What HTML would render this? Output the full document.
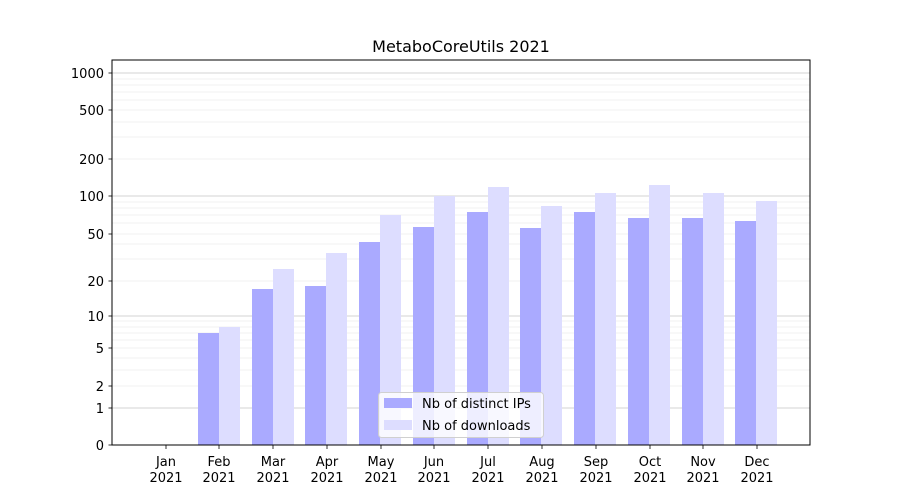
<!DOCTYPE html>
<html><head><meta charset="utf-8"><style>body{margin:0;background:#fff}svg{display:block;font-family:"DejaVu Sans","Liberation Sans",sans-serif}</style></head>
<body>
<svg width="900" height="500" xmlns="http://www.w3.org/2000/svg">
<rect width="900" height="500" fill="#fff"/>
<g stroke="#ececec" stroke-width="0.8">
<line x1="112" x2="810" y1="386" y2="386"/><line x1="112" x2="810" y1="370" y2="370"/><line x1="112" x2="810" y1="358" y2="358"/><line x1="112" x2="810" y1="348" y2="348"/><line x1="112" x2="810" y1="340" y2="340"/><line x1="112" x2="810" y1="333" y2="333"/><line x1="112" x2="810" y1="327" y2="327"/><line x1="112" x2="810" y1="321" y2="321"/>
<line x1="112" x2="810" y1="281" y2="281"/><line x1="112" x2="810" y1="259" y2="259"/><line x1="112" x2="810" y1="244" y2="244"/><line x1="112" x2="810" y1="234" y2="234"/><line x1="112" x2="810" y1="223" y2="223"/><line x1="112" x2="810" y1="215" y2="215"/><line x1="112" x2="810" y1="208" y2="208"/><line x1="112" x2="810" y1="202" y2="202"/>
<line x1="112" x2="810" y1="159" y2="159"/><line x1="112" x2="810" y1="137" y2="137"/><line x1="112" x2="810" y1="122" y2="122"/><line x1="112" x2="810" y1="110" y2="110"/><line x1="112" x2="810" y1="100" y2="100"/><line x1="112" x2="810" y1="92" y2="92"/><line x1="112" x2="810" y1="85" y2="85"/><line x1="112" x2="810" y1="79" y2="79"/>
</g>
<g stroke="#c4c4c4" stroke-width="0.8">
<line x1="112" x2="810" y1="408" y2="408"/><line x1="112" x2="810" y1="316" y2="316"/><line x1="112" x2="810" y1="196" y2="196"/><line x1="112" x2="810" y1="73" y2="73"/>
</g>
<g fill="#aaaaff">
<rect x="198" y="333" width="21" height="112"/><rect x="252" y="289" width="21" height="156"/><rect x="305" y="286" width="21" height="159"/><rect x="359" y="242" width="21" height="203"/><rect x="413" y="227" width="21" height="218"/><rect x="467" y="212" width="21" height="233"/><rect x="520" y="228" width="21" height="217"/><rect x="574" y="212" width="21" height="233"/><rect x="628" y="218" width="21" height="227"/><rect x="682" y="218" width="21" height="227"/><rect x="735" y="221" width="21" height="224"/>
</g>
<g fill="#ddddff">
<rect x="219" y="327" width="21" height="118"/><rect x="273" y="269" width="21" height="176"/><rect x="326" y="253" width="21" height="192"/><rect x="380" y="215" width="21" height="230"/><rect x="434" y="196" width="21" height="249"/><rect x="488" y="187" width="21" height="258"/><rect x="541" y="206" width="21" height="239"/><rect x="595" y="193" width="21" height="252"/><rect x="649" y="185" width="21" height="260"/><rect x="703" y="193" width="21" height="252"/><rect x="756" y="201" width="21" height="244"/>
</g>
<rect x="112" y="60" width="698" height="385" fill="none" stroke="#000" stroke-width="1"/>
<g stroke="#000" stroke-width="0.8">
<line x1="108.5" x2="112" y1="445" y2="445"/><line x1="108.5" x2="112" y1="408" y2="408"/><line x1="108.5" x2="112" y1="386" y2="386"/><line x1="108.5" x2="112" y1="348" y2="348"/><line x1="108.5" x2="112" y1="316" y2="316"/><line x1="108.5" x2="112" y1="281" y2="281"/><line x1="108.5" x2="112" y1="234" y2="234"/><line x1="108.5" x2="112" y1="196" y2="196"/><line x1="108.5" x2="112" y1="159" y2="159"/><line x1="108.5" x2="112" y1="110" y2="110"/><line x1="108.5" x2="112" y1="73" y2="73"/>
</g>
<g font-size="13" text-anchor="end" fill="#000">
<text x="104" y="450">0</text><text x="104" y="413">1</text><text x="104" y="391">2</text><text x="104" y="353">5</text><text x="104" y="321">10</text><text x="104" y="286">20</text><text x="104" y="239">50</text><text x="104" y="201">100</text><text x="104" y="164">200</text><text x="104" y="115">500</text><text x="104" y="78">1000</text>
</g>
<g stroke="#000" stroke-width="0.8">
<line x1="166" x2="166" y1="445" y2="449"/><line x1="219" x2="219" y1="445" y2="449"/><line x1="273" x2="273" y1="445" y2="449"/><line x1="327" x2="327" y1="445" y2="449"/><line x1="381" x2="381" y1="445" y2="449"/><line x1="434" x2="434" y1="445" y2="449"/><line x1="488" x2="488" y1="445" y2="449"/><line x1="542" x2="542" y1="445" y2="449"/><line x1="596" x2="596" y1="445" y2="449"/><line x1="650" x2="650" y1="445" y2="449"/><line x1="703" x2="703" y1="445" y2="449"/><line x1="757" x2="757" y1="445" y2="449"/>
</g>
<g font-size="13" text-anchor="middle" fill="#000">
<text x="166" y="466">Jan</text><text x="166" y="482">2021</text>
<text x="219" y="466">Feb</text><text x="219" y="482">2021</text>
<text x="273" y="466">Mar</text><text x="273" y="482">2021</text>
<text x="327" y="466">Apr</text><text x="327" y="482">2021</text>
<text x="381" y="466">May</text><text x="381" y="482">2021</text>
<text x="434" y="466">Jun</text><text x="434" y="482">2021</text>
<text x="488" y="466">Jul</text><text x="488" y="482">2021</text>
<text x="542" y="466">Aug</text><text x="542" y="482">2021</text>
<text x="596" y="466">Sep</text><text x="596" y="482">2021</text>
<text x="650" y="466">Oct</text><text x="650" y="482">2021</text>
<text x="703" y="466">Nov</text><text x="703" y="482">2021</text>
<text x="757" y="466">Dec</text><text x="757" y="482">2021</text>
<text x="461" y="52" font-size="16">MetaboCoreUtils 2021</text>
</g>
<rect x="378.5" y="392.5" width="165" height="45" rx="3" fill="#fff" fill-opacity="0.8" stroke="#d0d0d0"/>
<rect x="384" y="398" width="28" height="10" fill="#aaaaff"/>
<rect x="384" y="420" width="28" height="10" fill="#ddddff"/>
<g font-size="13" fill="#000"><text x="422" y="408">Nb of distinct IPs</text><text x="422" y="430">Nb of downloads</text></g>
</svg>
</body></html>
